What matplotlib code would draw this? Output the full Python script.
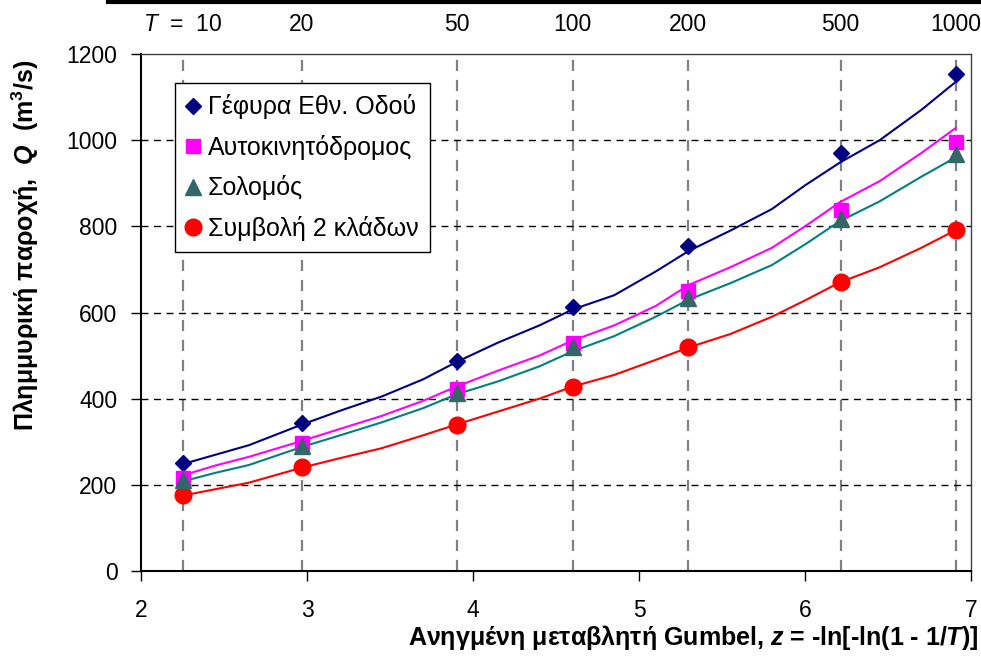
import matplotlib.pyplot as plt
from matplotlib.lines import Line2D

plt.rcParams['font.family'] = ['Liberation Sans', 'DejaVu Sans']
plt.rcParams['mathtext.fontset'] = 'custom'
plt.rcParams['mathtext.rm'] = 'Liberation Sans'
plt.rcParams['mathtext.it'] = 'Liberation Sans:italic'
plt.rcParams['mathtext.bf'] = 'Liberation Sans:bold'
plt.rcParams['mathtext.bfit'] = 'Liberation Sans:bold:italic'

# return periods and reduced Gumbel variate
T_labels = ['$\\mathit{T}$  =  10', '20', '50', '100', '200', '500', '1000']
z_T = [2.250, 2.970, 3.902, 4.600, 5.296, 6.214, 6.907]

# point estimates (markers)
gefyra_pts = [251, 344, 488, 613, 755, 971, 1153]
autok_pts = [216, 298, 423, 530, 651, 837, 995]
solomos_pts = [211, 291, 412, 520, 634, 816, 967]
symvoli_pts = [177, 242, 340, 428, 519, 670, 791]

# fitted curves
z_line = [2.25, 2.45, 2.65, 2.97, 3.2, 3.45, 3.7, 3.9, 4.15, 4.4, 4.6, 4.85,
          5.1, 5.3, 5.55, 5.8, 6.0, 6.21, 6.45, 6.7, 6.907]
gefyra_line = [248, 270, 292, 340, 372, 405, 445, 485, 530, 570, 607, 640,
               695, 743, 790, 840, 895, 948, 1000, 1070, 1135]
autok_line = [222, 245, 265, 302, 330, 360, 395, 428, 465, 500, 535, 570,
              615, 664, 705, 750, 800, 856, 905, 970, 1028]
solomos_line = [208, 228, 246, 288, 315, 345, 378, 410, 440, 475, 510, 545,
                590, 630, 668, 710, 758, 812, 858, 915, 960]
symvoli_line = [175, 190, 205, 240, 262, 285, 315, 340, 370, 400, 428, 455,
                490, 519, 550, 590, 628, 670, 705, 750, 791]

fig = plt.figure(figsize=(9.81, 6.71), dpi=100)
ax = fig.add_axes([141 / 981, 1 - 571 / 671, 830 / 981, 517 / 671])

# grid
for z in z_T:
    ax.axvline(z, color='#808080', lw=1.6, ls=(0, (5, 4)), zorder=1)
for yv in [200, 400, 600, 800, 1000]:
    ax.axhline(yv, color='black', lw=1.0, ls=(0, (5, 4)), zorder=1)

ax.plot(z_line, gefyra_line, color='#000080', lw=1.5, zorder=2)
ax.plot(z_line, autok_line, color='#FF00FF', lw=1.5, zorder=2)
ax.plot(z_line, solomos_line, color='#008080', lw=1.5, zorder=2)
ax.plot(z_line, symvoli_line, color='#FF0000', lw=1.5, zorder=2)

ax.plot(z_T, gefyra_pts, 'D', color='#000080', ms=8, ls='none', zorder=3,
        label='Γέφυρα Εθν. Οδού')
ax.plot(z_T, autok_pts, 's', color='#FF00FF', ms=10, ls='none', zorder=3,
        label='Αυτοκινητόδρομος')
ax.plot(z_T, solomos_pts, '^', color='#336666', ms=11, ls='none', zorder=4,
        label='Σολομός')
ax.plot(z_T, symvoli_pts, 'o', color='#FF0000', ms=12, ls='none', zorder=3,
        label='Συμβολή 2 κλάδων')

ax.set_xlim(2, 7)
ax.set_ylim(0, 1200)
ax.set_xticks([2, 3, 4, 5, 6, 7])
ax.set_yticks(range(0, 1201, 200))
ax.tick_params(direction='out', length=7, labelsize=16.5, width=1)
ax.tick_params(axis='y', pad=10)
ax.tick_params(axis='x', pad=13)
for s in ['left', 'bottom']:
    ax.spines[s].set_linewidth(1.5)
for s in ['top', 'right']:
    ax.spines[s].set_color('#404040')
    ax.spines[s].set_linewidth(1.0)

top = ax.secondary_xaxis('top')
top.set_xticks(z_T)
top.set_xticklabels(T_labels)
top.tick_params(length=0, labelsize=16.5, pad=13)
top.spines['top'].set_visible(False)

leg = ax.legend(loc='upper left', bbox_to_anchor=(175 / 981, 1 - 83 / 671),
                bbox_transform=fig.transFigure, fontsize=18, frameon=True,
                fancybox=False, edgecolor='black', framealpha=1,
                handlelength=0.55, handletextpad=0.3, borderpad=0.45,
                labelspacing=0.62, borderaxespad=0)
leg.get_frame().set_linewidth(1.0)

fig.text(25 / 981, 1 - 245 / 671, 'Πλημμυρική παροχή,  $\\mathbfit{Q}$  (m$^{\\mathbf{3}}$/s)',
         rotation=90, ha='center', va='center', fontsize=18, fontweight='bold')
fig.text(978 / 981, 1 - 637 / 671,
         'Ανηγμένη μεταβλητή Gumbel, $\\mathbfit{z}$ = -ln[-ln(1 - 1/$\\mathbfit{T}$)]',
         ha='right', va='center', fontsize=18, fontweight='bold')

fig.add_artist(Line2D([108 / 981, 1], [1 - 1.5 / 671, 1 - 1.5 / 671],
                      color='black', lw=3, transform=fig.transFigure))

fig.savefig('out.png', dpi=100)
